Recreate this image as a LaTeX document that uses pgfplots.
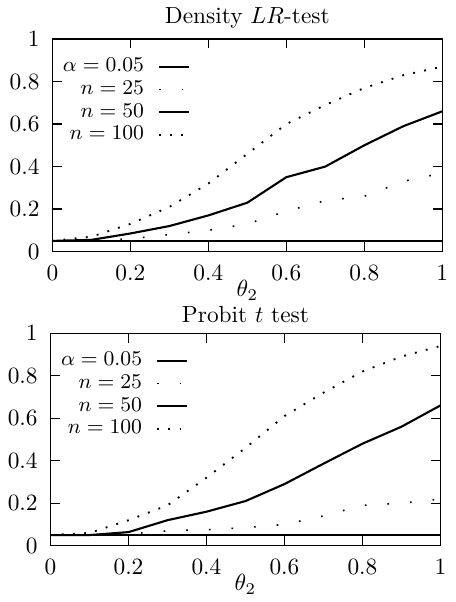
\documentclass[border=0pt]{standalone}
\usepackage{pgfplots}
\pgfplotsset{compat=1.18}
\begin{document}
\begin{tikzpicture}
\pgfplotsset{
  myaxis/.style={
    scale only axis, width=167pt, height=91pt,
    xmin=0, xmax=1, ymin=0, ymax=1,
    xtick={0,0.2,0.4,0.6,0.8,1}, ytick={0,0.2,0.4,0.6,0.8,1},
    tick align=inside, major tick length=4pt,
    axis line style={line width=0.6pt},
    every tick/.style={black, line width=0.5pt},
    xticklabel style={yshift=-2.5pt},
    yticklabel style={xshift=-2pt},
    xlabel={$\theta_2$},
    xlabel style={yshift=7pt},
    title style={yshift=-5pt},
    legend cell align=right, legend plot pos=right,
    legend style={font=\small, draw=none, fill=none, at={(0.36,0.945)}, anchor=north east, row sep=-1.6pt, column sep=4pt, inner sep=1pt},
    legend image code/.code={\draw[##1] (0cm,0cm) -- (0.45cm,0cm);},
  },
  alpha/.style={black, line width=0.8pt},
  n25/.style={black, line width=0.7pt, dash pattern=on 0.7pt off 9pt},
  n50/.style={black, line width=0.9pt},
  n100/.style={black, line width=0.8pt, dash pattern=on 0.8pt off 4pt},
}
\begin{axis}[myaxis, at={(0.8pt,126pt)}, title={Density $LR$-test}]
\addplot[alpha] coordinates {(0,0.05) (1,0.05)};
\addlegendentry{$\alpha=0.05$}
\addplot[n25] coordinates {(0,0.05) (0.1,0.05) (0.2,0.06) (0.3,0.08) (0.4,0.10) (0.5,0.13) (0.6,0.19) (0.7,0.24) (0.8,0.26) (0.9,0.33) (1.0,0.37)};
\addlegendentry{$n=25$}
\addplot[n50] coordinates {(0,0.05) (0.1,0.055) (0.2,0.085) (0.3,0.12) (0.4,0.17) (0.5,0.23) (0.6,0.35) (0.7,0.40) (0.8,0.50) (0.9,0.59) (1.0,0.66)};
\addlegendentry{$n=50$}
\addplot[n100] coordinates {(0,0.05) (0.1,0.07) (0.2,0.13) (0.3,0.21) (0.4,0.32) (0.5,0.46) (0.6,0.60) (0.7,0.69) (0.8,0.77) (0.9,0.83) (1.0,0.87)};
\addlegendentry{$n=100$}
\end{axis}
\begin{axis}[myaxis, at={(0pt,0pt)}, title={Probit $t$ test}]
\addplot[alpha] coordinates {(0,0.05) (1,0.05)};
\addlegendentry{$\alpha=0.05$}
\addplot[n25] coordinates {(0,0.05) (0.1,0.05) (0.2,0.055) (0.3,0.07) (0.4,0.075) (0.5,0.085) (0.6,0.10) (0.7,0.14) (0.8,0.19) (0.9,0.20) (1.0,0.22)};
\addlegendentry{$n=25$}
\addplot[n50] coordinates {(0,0.05) (0.1,0.05) (0.2,0.064) (0.3,0.12) (0.4,0.16) (0.5,0.21) (0.6,0.29) (0.7,0.386) (0.8,0.48) (0.9,0.56) (1.0,0.66)};
\addlegendentry{$n=50$}
\addplot[n100] coordinates {(0,0.05) (0.1,0.06) (0.2,0.12) (0.3,0.19) (0.4,0.32) (0.5,0.46) (0.6,0.61) (0.7,0.72) (0.8,0.82) (0.9,0.89) (1.0,0.94)};
\addlegendentry{$n=100$}
\end{axis}
\end{tikzpicture}
\end{document}
